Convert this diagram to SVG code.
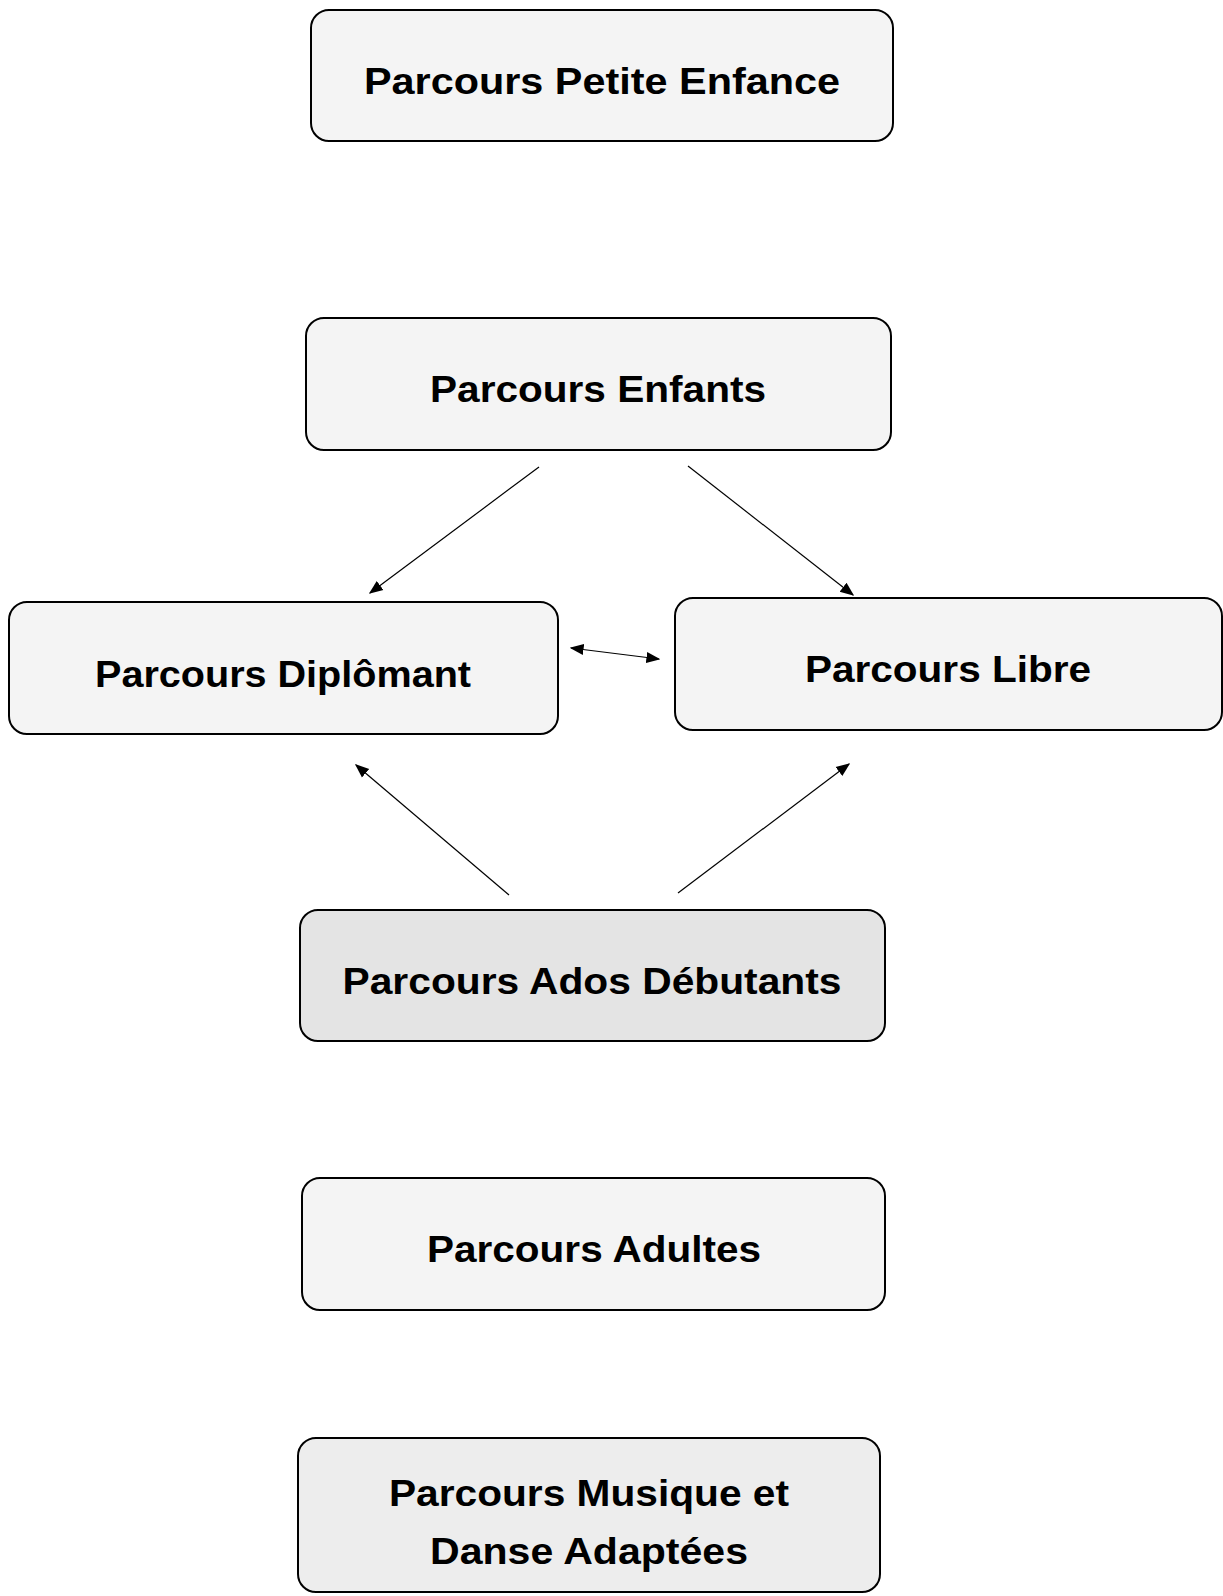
<svg xmlns="http://www.w3.org/2000/svg" width="1223" height="1596" viewBox="0 0 1223 1596">
<style>
.box{fill:#f4f4f4;stroke:#000;stroke-width:2}
.t{font-family:"Liberation Sans",Arial,sans-serif;font-weight:bold;font-size:36px;fill:#000;text-anchor:middle}
.c{stroke:#000;stroke-width:1.2;fill:none;marker-end:url(#ah)}
</style>
<defs>
<marker id="ah" viewBox="0 0 10 10" refX="9" refY="5" markerWidth="14" markerHeight="14" markerUnits="userSpaceOnUse" orient="auto-start-reverse">
<path d="M0,1 L10,5 L0,9 z" fill="#000"/>
</marker>
</defs>
<rect width="1223" height="1596" fill="#fff"/>
<g id="connectors">
<line class="c" x1="539" y1="467" x2="370" y2="593"/>
<line class="c" x1="688" y1="466" x2="853" y2="595"/>
<line class="c" x1="571" y1="648" x2="659" y2="659" marker-start="url(#ah)"/>
<line class="c" x1="509" y1="895" x2="356" y2="765"/>
<line class="c" x1="678" y1="893" x2="849" y2="764"/>
</g>
<g id="n-petite-enfance">
<rect class="box" x="311" y="10" width="582" height="131" rx="18"/>
<text class="t" x="602" y="94" textLength="476" lengthAdjust="spacingAndGlyphs">Parcours Petite Enfance</text>
</g>
<g id="n-enfants">
<rect class="box" x="306" y="318" width="585" height="132" rx="18"/>
<text class="t" x="598" y="402" textLength="336" lengthAdjust="spacingAndGlyphs">Parcours Enfants</text>
</g>
<g id="n-diplomant">
<rect class="box" x="9" y="602" width="549" height="132" rx="18"/>
<text class="t" x="283" y="687" textLength="376" lengthAdjust="spacingAndGlyphs">Parcours Diplômant</text>
</g>
<g id="n-libre">
<rect class="box" x="675" y="598" width="547" height="132" rx="18"/>
<text class="t" x="948" y="682" textLength="286" lengthAdjust="spacingAndGlyphs">Parcours Libre</text>
</g>
<g id="n-ados">
<rect class="box" x="300" y="910" width="585" height="131" rx="18" style="fill:#e4e4e4"/>
<text class="t" x="592" y="994" textLength="499" lengthAdjust="spacingAndGlyphs">Parcours Ados Débutants</text>
</g>
<g id="n-adultes">
<rect class="box" x="302" y="1178" width="583" height="132" rx="18"/>
<text class="t" x="594" y="1262" textLength="334" lengthAdjust="spacingAndGlyphs">Parcours Adultes</text>
</g>
<g id="n-musique">
<rect class="box" x="298" y="1438" width="582" height="154" rx="18" style="fill:#ededed"/>
<text class="t" x="589" y="1506" textLength="400" lengthAdjust="spacingAndGlyphs">Parcours Musique et</text>
<text class="t" x="589" y="1564" textLength="318" lengthAdjust="spacingAndGlyphs">Danse Adaptées</text>
</g>
</svg>
